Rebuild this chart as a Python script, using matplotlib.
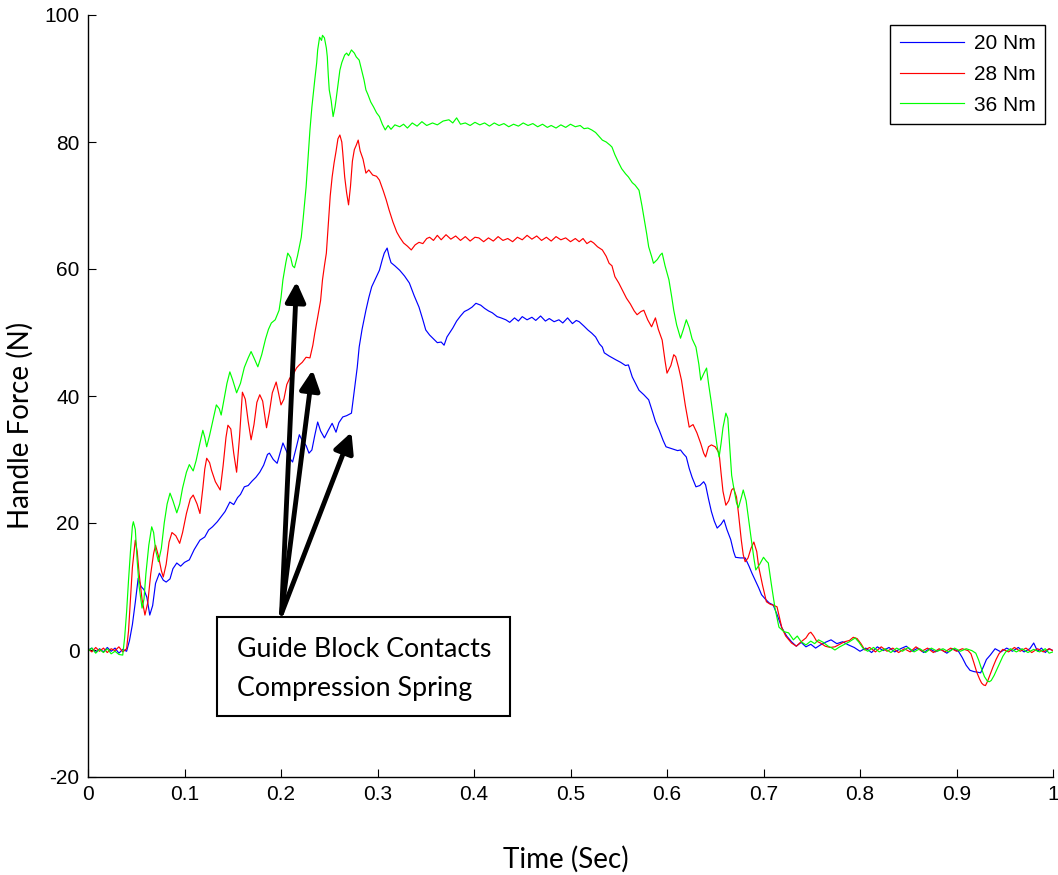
import matplotlib.pyplot as plt
import numpy as np

# handle force vs time for three motor torques
t_20 = [0.000, 0.004, 0.008, 0.012, 0.016, 0.020, 0.024, 0.028, 0.032, 0.036, 0.040,
        0.043, 0.046, 0.049, 0.052, 0.055, 0.058, 0.061, 0.064, 0.067, 0.070, 0.074, 0.078,
        0.081, 0.085, 0.088, 0.092, 0.096, 0.100, 0.105, 0.110, 0.116, 0.121, 0.125, 0.129,
        0.134, 0.138, 0.142, 0.147, 0.151, 0.155, 0.158, 0.162, 0.166, 0.170, 0.174, 0.178,
        0.182, 0.186, 0.188, 0.192, 0.196, 0.199, 0.202, 0.206, 0.209, 0.212, 0.216, 0.219,
        0.222, 0.226, 0.229, 0.232, 0.235, 0.238, 0.241, 0.245, 0.249, 0.253, 0.257, 0.260,
        0.264, 0.268, 0.273, 0.276, 0.279, 0.281, 0.284, 0.288, 0.291, 0.294, 0.298, 0.302,
        0.305, 0.307, 0.310, 0.312, 0.314, 0.318, 0.323, 0.328, 0.333, 0.338, 0.343, 0.347,
        0.350, 0.354, 0.358, 0.362, 0.366, 0.369, 0.372, 0.375, 0.378, 0.382, 0.386, 0.390,
        0.394, 0.398, 0.402, 0.407, 0.411, 0.415, 0.419, 0.424, 0.428, 0.433, 0.437, 0.442,
        0.446, 0.450, 0.455, 0.460, 0.464, 0.469, 0.474, 0.478, 0.483, 0.488, 0.492, 0.497,
        0.502, 0.506, 0.509, 0.514, 0.518, 0.522, 0.526, 0.530, 0.533, 0.535, 0.540, 0.547,
        0.552, 0.557, 0.560, 0.564, 0.568, 0.571, 0.576, 0.581, 0.585, 0.588, 0.592, 0.596,
        0.599, 0.603, 0.607, 0.611, 0.614, 0.617, 0.620, 0.623, 0.626, 0.630, 0.634, 0.638,
        0.640, 0.643, 0.646, 0.649, 0.652, 0.656, 0.659, 0.662, 0.666, 0.669, 0.671, 0.676,
        0.681, 0.685, 0.688, 0.692, 0.695, 0.698, 0.702, 0.706, 0.710, 0.714, 0.719, 0.724,
        0.729, 0.734, 0.739, 0.744, 0.749, 0.754, 0.759, 0.764, 0.770, 0.776, 0.782, 0.788,
        0.794, 0.800, 0.806, 0.812, 0.818, 0.824, 0.830, 0.836, 0.842, 0.848, 0.854, 0.860,
        0.866, 0.872, 0.878, 0.884, 0.890, 0.896, 0.902, 0.906, 0.910, 0.914, 0.918, 0.922,
        0.925, 0.928, 0.931, 0.935, 0.940, 0.946, 0.952, 0.958, 0.964, 0.970, 0.976, 0.980,
        0.984, 0.988, 0.992, 0.996, 1.000]
f_20 = [0.0, 0.3, -0.4, 0.2, -0.3, 0.4, -0.2, 0.3, -0.5, 0.1, -0.2,
        1.5, 4.0, 7.5, 11.3, 10.0, 9.5, 8.3, 5.5, 7.0, 10.5, 12.1, 11.0,
        10.7, 11.2, 12.8, 13.7, 13.2, 13.8, 14.2, 15.8, 17.3, 17.8, 18.9, 19.4,
        20.2, 21.0, 21.8, 23.3, 22.9, 24.0, 24.5, 25.7, 25.9, 26.6, 27.2, 28.0,
        29.1, 30.8, 31.0, 30.0, 29.4, 31.0, 32.6, 31.2, 30.2, 29.6, 32.0, 33.9,
        33.0, 32.2, 31.0, 31.5, 33.8, 35.9, 34.5, 33.4, 34.6, 35.7, 34.3, 35.8,
        36.7, 36.9, 37.3, 40.9, 44.5, 47.7, 50.5, 53.5, 55.5, 57.2, 58.5, 59.8,
        61.5, 62.5, 63.3, 62.0, 61.0, 60.5, 59.8, 58.9, 57.8, 55.8, 54.0, 52.0,
        50.4, 49.6, 49.0, 48.4, 48.5, 48.0, 49.3, 50.0, 50.7, 51.8, 52.6, 53.3,
        53.6, 54.0, 54.6, 54.3, 53.8, 53.4, 53.1, 52.5, 52.3, 52.0, 51.6, 52.3,
        51.8, 52.5, 52.0, 52.4, 51.9, 52.6, 51.8, 52.2, 51.7, 52.0, 51.5, 52.3,
        51.4, 51.9, 51.7, 51.0, 50.4, 49.9, 49.3, 48.2, 47.7, 46.8, 46.3, 45.7,
        45.3, 44.8, 44.9, 43.0, 41.8, 40.9, 40.2, 39.4, 37.5, 36.0, 34.6, 33.0,
        32.0, 31.8, 31.6, 31.4, 31.5, 30.9, 30.4, 28.6, 27.2, 25.7, 25.9, 26.5,
        26.0, 23.8, 21.8, 20.3, 19.2, 19.8, 20.5, 19.0, 17.4, 15.5, 14.6, 14.5,
        14.5, 13.2, 12.1, 10.8, 9.8, 8.7, 8.0, 7.4, 7.1, 5.6, 3.5, 2.2,
        1.3, 0.6, 1.2, 0.5, 0.9, 0.3, 0.8, 1.2, 1.6, 1.0, 1.3, 0.8,
        0.4, -0.2, 0.3, -0.4, 0.5, -0.1, 0.4, -0.3, 0.2, 0.6, -0.2, 0.3,
        -0.4, 0.2, -0.3, 0.1, -0.5, 0.2, -0.2, -1.2, -2.4, -3.2, -3.4, -3.5,
        -3.6, -2.6, -1.5, -0.8, 0.2, -0.3, 0.3, -0.2, 0.4, -0.3, 0.2, 1.1,
        -0.2, 0.3, -0.4, 0.2, -0.1]

t_28 = [0.000, 0.004, 0.008, 0.012, 0.016, 0.020, 0.024, 0.028, 0.032, 0.036, 0.040,
        0.042, 0.044, 0.046, 0.049, 0.051, 0.053, 0.056, 0.059, 0.062, 0.065, 0.068, 0.070,
        0.073, 0.076, 0.078, 0.081, 0.084, 0.087, 0.091, 0.095, 0.098, 0.102, 0.106, 0.109,
        0.113, 0.116, 0.119, 0.121, 0.123, 0.126, 0.128, 0.132, 0.137, 0.140, 0.143, 0.145,
        0.148, 0.151, 0.154, 0.157, 0.160, 0.163, 0.166, 0.169, 0.172, 0.175, 0.178, 0.181,
        0.185, 0.188, 0.191, 0.195, 0.197, 0.200, 0.203, 0.206, 0.209, 0.213, 0.216, 0.219,
        0.222, 0.226, 0.230, 0.233, 0.235, 0.238, 0.241, 0.243, 0.245, 0.247, 0.249, 0.251,
        0.253, 0.255, 0.257, 0.259, 0.261, 0.263, 0.264, 0.266, 0.268, 0.270, 0.272, 0.274,
        0.276, 0.278, 0.280, 0.282, 0.285, 0.288, 0.291, 0.295, 0.299, 0.302, 0.306, 0.309,
        0.312, 0.316, 0.320, 0.323, 0.327, 0.331, 0.335, 0.339, 0.343, 0.347, 0.351, 0.354,
        0.358, 0.362, 0.366, 0.371, 0.376, 0.381, 0.386, 0.391, 0.396, 0.401, 0.405, 0.410,
        0.415, 0.420, 0.425, 0.430, 0.435, 0.440, 0.445, 0.450, 0.455, 0.460, 0.465, 0.470,
        0.475, 0.480, 0.485, 0.490, 0.495, 0.500, 0.505, 0.509, 0.513, 0.517, 0.521, 0.524,
        0.528, 0.533, 0.537, 0.540, 0.543, 0.546, 0.550, 0.555, 0.558, 0.562, 0.566, 0.569,
        0.573, 0.576, 0.580, 0.584, 0.588, 0.591, 0.595, 0.598, 0.600, 0.604, 0.607, 0.609,
        0.612, 0.615, 0.619, 0.623, 0.627, 0.631, 0.635, 0.638, 0.640, 0.643, 0.646, 0.650,
        0.654, 0.656, 0.658, 0.661, 0.664, 0.667, 0.669, 0.672, 0.674, 0.677, 0.679, 0.681,
        0.684, 0.687, 0.690, 0.693, 0.695, 0.699, 0.703, 0.707, 0.711, 0.714, 0.717, 0.719,
        0.723, 0.729, 0.734, 0.739, 0.744, 0.747, 0.749, 0.752, 0.755, 0.759, 0.764, 0.769,
        0.774, 0.779, 0.784, 0.789, 0.793, 0.797, 0.801, 0.805, 0.810, 0.816, 0.822, 0.828,
        0.834, 0.840, 0.846, 0.852, 0.858, 0.864, 0.870, 0.876, 0.882, 0.888, 0.894, 0.900,
        0.906, 0.912, 0.915, 0.918, 0.921, 0.924, 0.926, 0.928, 0.930, 0.932, 0.935, 0.938,
        0.941, 0.944, 0.948, 0.954, 0.960, 0.966, 0.972, 0.978, 0.984, 0.990, 0.996, 1.000]
f_28 = [0.2, -0.3, 0.4, -0.2, 0.3, -0.4, 0.2, -0.1, 0.5, -0.3, 0.2,
        3.0, 8.0, 13.0, 17.3, 15.5, 12.0, 8.0, 5.5, 7.5, 12.0, 15.2, 16.5,
        14.8, 12.5, 11.5, 13.5, 17.0, 18.5, 18.0, 16.8, 18.5, 21.5, 23.8, 24.4,
        23.0, 21.5, 25.5, 28.5, 30.2, 29.5, 28.3, 26.5, 25.2, 29.0, 33.5, 35.4,
        34.8, 31.0, 28.0, 33.5, 40.6, 39.5, 36.0, 33.1, 35.5, 39.0, 40.2, 39.2,
        35.0, 37.5, 40.5, 42.2, 40.8, 38.6, 39.5, 41.8, 42.8, 43.5, 44.4, 44.9,
        45.3, 46.1, 46.0, 48.0, 49.9, 52.4, 55.0, 58.3, 60.5, 62.5, 67.0, 71.5,
        74.5, 76.7, 78.5, 80.5, 81.1, 80.0, 78.3, 74.5, 72.0, 70.1, 73.0, 77.0,
        78.8, 79.5, 80.3, 78.6, 77.3, 75.1, 75.6, 74.8, 74.6, 74.0, 72.3, 70.9,
        69.3, 67.4, 65.8, 65.0, 64.1, 63.6, 63.0, 63.8, 64.2, 64.0, 64.8, 65.0,
        64.5, 65.3, 64.6, 65.4, 64.7, 65.2, 64.5, 65.1, 64.4, 65.0, 64.9, 64.3,
        64.9, 64.4, 65.1, 64.5, 64.8, 64.3, 65.0, 64.6, 65.3, 64.7, 65.2, 64.5,
        65.0, 64.4, 65.1, 64.6, 64.9, 64.3, 64.8, 64.3, 64.8, 64.0, 64.4, 64.1,
        63.5, 63.0, 62.0, 60.9, 60.5, 58.8, 57.8, 56.3, 55.4, 54.5, 53.4, 52.8,
        53.3, 53.5, 52.0, 50.9, 52.3, 50.5, 48.8, 45.5, 43.6, 44.8, 46.5, 46.2,
        44.5, 42.5, 38.5, 35.1, 35.5, 34.2, 32.5, 31.0, 30.4, 32.0, 32.3, 32.0,
        31.0, 27.9, 25.0, 22.8, 23.5, 25.2, 25.5, 24.1, 21.6, 17.3, 15.0, 13.9,
        14.5, 16.0, 17.0, 15.5, 13.1, 10.2, 7.6, 7.2, 7.0, 6.8, 4.8, 3.5,
        2.2, 1.1, 0.6, 1.3, 1.9, 2.6, 2.8, 2.2, 1.4, 1.1, 0.6, 0.4,
        0.5, 0.9, 1.3, 1.5, 2.0, 1.8, 1.0, 0.0, 0.4, -0.3, 0.5, -0.2,
        0.3, -0.4, 0.2, -0.3, 0.5, -0.2, 0.3, -0.4, 0.2, -0.3, 0.3, -0.2,
        0.2, -0.1, -0.6, -2.0, -3.5, -4.6, -5.2, -5.5, -5.6, -5.0, -3.8, -2.6,
        -1.5, -0.6, 0.1, -0.3, 0.4, -0.2, 0.3, -0.4, 0.2, -0.3, 0.2, -0.1]

t_36 = [0.000, 0.004, 0.008, 0.012, 0.016, 0.020, 0.024, 0.028, 0.032, 0.036, 0.038,
        0.040, 0.042, 0.044, 0.046, 0.047, 0.049, 0.051, 0.053, 0.056, 0.058, 0.060, 0.063,
        0.066, 0.068, 0.070, 0.073, 0.076, 0.079, 0.082, 0.085, 0.088, 0.092, 0.095, 0.098,
        0.102, 0.105, 0.109, 0.112, 0.116, 0.119, 0.121, 0.123, 0.126, 0.130, 0.133, 0.136,
        0.138, 0.141, 0.144, 0.147, 0.150, 0.154, 0.158, 0.162, 0.166, 0.169, 0.172, 0.176,
        0.180, 0.184, 0.187, 0.190, 0.194, 0.198, 0.200, 0.202, 0.205, 0.207, 0.210, 0.212,
        0.214, 0.217, 0.219, 0.221, 0.223, 0.226, 0.228, 0.230, 0.232, 0.235, 0.237, 0.238,
        0.240, 0.242, 0.243, 0.245, 0.247, 0.248, 0.249, 0.250, 0.252, 0.254, 0.256, 0.257,
        0.259, 0.261, 0.263, 0.266, 0.268, 0.270, 0.273, 0.276, 0.278, 0.281, 0.284, 0.286,
        0.288, 0.290, 0.293, 0.296, 0.299, 0.302, 0.305, 0.308, 0.311, 0.314, 0.318, 0.323,
        0.327, 0.331, 0.336, 0.341, 0.346, 0.351, 0.357, 0.362, 0.368, 0.374, 0.378, 0.382,
        0.386, 0.391, 0.396, 0.401, 0.406, 0.411, 0.416, 0.421, 0.426, 0.431, 0.436, 0.441,
        0.446, 0.451, 0.456, 0.461, 0.466, 0.471, 0.476, 0.480, 0.485, 0.490, 0.495, 0.500,
        0.505, 0.510, 0.514, 0.518, 0.522, 0.526, 0.530, 0.533, 0.537, 0.541, 0.543, 0.546,
        0.550, 0.553, 0.557, 0.560, 0.564, 0.567, 0.571, 0.574, 0.576, 0.579, 0.581, 0.584,
        0.586, 0.590, 0.593, 0.595, 0.598, 0.602, 0.605, 0.607, 0.610, 0.614, 0.617, 0.620,
        0.623, 0.626, 0.630, 0.633, 0.635, 0.638, 0.641, 0.643, 0.646, 0.649, 0.652, 0.654,
        0.656, 0.658, 0.661, 0.663, 0.665, 0.667, 0.669, 0.672, 0.674, 0.677, 0.679, 0.682,
        0.685, 0.687, 0.690, 0.692, 0.696, 0.700, 0.703, 0.705, 0.708, 0.712, 0.716, 0.721,
        0.726, 0.731, 0.735, 0.739, 0.744, 0.749, 0.753, 0.757, 0.762, 0.767, 0.771, 0.774,
        0.779, 0.784, 0.789, 0.795, 0.799, 0.803, 0.808, 0.814, 0.820, 0.826, 0.832, 0.838,
        0.844, 0.850, 0.856, 0.862, 0.868, 0.874, 0.880, 0.886, 0.892, 0.898, 0.904, 0.910,
        0.916, 0.920, 0.923, 0.926, 0.929, 0.932, 0.934, 0.936, 0.939, 0.942, 0.945, 0.948,
        0.951, 0.956, 0.962, 0.968, 0.974, 0.980, 0.986, 0.992, 0.996, 1.000]
f_36 = [-0.2, 0.3, -0.5, 0.1, -0.4, 0.2, -0.6, -0.2, -0.7, -0.8, 2.0,
        6.0, 11.0, 15.5, 19.5, 20.2, 19.0, 14.0, 10.0, 6.6, 8.0, 12.0, 16.5,
        19.4, 18.5, 15.8, 13.9, 16.0, 20.0, 23.0, 24.7, 23.5, 21.6, 23.0, 25.5,
        28.0, 29.2, 28.2, 29.8, 32.6, 34.6, 33.5, 32.0, 33.8, 36.5, 38.6, 38.0,
        37.0, 39.5, 42.0, 43.8, 42.5, 40.5, 42.0, 44.5, 46.0, 47.0, 46.0, 44.6,
        46.5, 49.0, 50.5, 51.5, 52.0, 53.5, 55.5, 58.3, 61.0, 62.5, 61.8, 60.5,
        60.2, 62.0, 63.5, 65.0, 68.0, 72.9, 77.5, 81.9, 85.5, 89.8, 92.5, 94.5,
        96.5, 96.0, 96.8, 96.4, 94.8, 93.4, 90.5, 88.2, 86.5, 84.0, 85.5, 86.6,
        89.0, 91.3, 92.5, 93.7, 94.0, 93.6, 94.5, 94.0, 93.4, 92.9, 91.0, 89.8,
        88.2, 87.5, 86.3, 85.5, 84.6, 84.0, 82.8, 81.9, 82.6, 82.0, 82.7, 82.4,
        82.8, 82.2, 83.0, 82.5, 83.2, 82.6, 83.0, 82.7, 83.3, 83.5, 83.0, 83.8,
        82.8, 83.0, 82.6, 83.1, 82.7, 83.0, 82.5, 83.0, 82.6, 82.9, 82.4, 82.8,
        82.5, 83.0, 82.6, 82.9, 82.4, 82.8, 82.3, 82.6, 82.2, 82.7, 82.3, 82.8,
        82.4, 82.6, 82.1, 82.2, 81.9, 81.5, 80.8, 80.3, 80.0, 79.5, 79.2, 78.0,
        76.7, 75.8, 75.0, 74.5, 73.6, 73.2, 72.4, 70.0, 68.2, 65.5, 63.5, 62.0,
        60.9, 61.5, 62.2, 62.5, 60.5, 58.3, 55.5, 53.5, 51.2, 49.1, 50.5, 52.0,
        50.8, 49.0, 47.7, 45.0, 42.5, 43.5, 44.4, 42.0, 38.9, 35.5, 32.0, 30.4,
        32.5, 35.0, 37.3, 36.5, 32.0, 27.5, 25.7, 23.2, 22.4, 24.0, 25.2, 23.5,
        20.0, 17.8, 14.5, 12.6, 13.5, 14.6, 14.0, 13.7, 10.5, 6.5, 3.6, 2.9,
        2.7, 1.6, 2.2, 1.3, 0.8, 1.4, 1.0, 1.6, 1.2, 0.6, 0.3, 0.0,
        0.5, 0.9, 1.3, 1.9, 1.2, 0.3, -0.2, 0.4, -0.3, 0.2, -0.4, 0.3,
        -0.2, 0.4, -0.3, 0.2, -0.4, 0.3, -0.2, 0.2, -0.3, 0.3, -0.2, 0.2,
        -0.1, -0.5, -1.6, -3.0, -4.2, -4.9, -5.0, -4.8, -4.0, -3.0, -2.0, -1.0,
        -0.3, 0.2, -0.3, 0.2, -0.4, 0.1, -0.3, 0.2, -0.5, -0.3]

labels = ['20 Nm', '28 Nm', '36 Nm']
colors = ['#0000ff', '#ff0000', '#00ff00']

# arrow tail and the three spring-contact points it points at
arrow_tail = (0.2006, 5.8)
arrow_tips = [(0.2161, 58.0), (0.2327, 44.1), (0.273, 34.3)]
note = 'Guide Block Contacts\nCompression Spring'

plt.rcParams['font.family'] = ['Liberation Sans', 'DejaVu Sans']
plt.rcParams['axes.unicode_minus'] = False

fig = plt.figure(figsize=(10.58, 8.75), dpi=100)
ax = fig.add_axes([88 / 1058, 98 / 875, 965 / 1058, 762 / 875])

for t, f, lab, c in zip([t_20, t_28, t_36], [f_20, f_28, f_36], labels, colors):
    ax.plot(t, f, color=c, lw=0.85, label=lab)

ax.set_xlim(0, 1)
ax.set_ylim(-20, 100)
ax.set_xticks(np.arange(0, 1.01, 0.1))
ax.set_xticklabels(['0'] + ['%.1f' % v for v in np.arange(0.1, 0.95, 0.1)] + ['1'])
ax.set_yticks(np.arange(-20, 101, 20))
ax.tick_params(direction='in', length=6, width=0.8, labelsize=15, pad=6)
for side in ['top', 'right']:
    ax.spines[side].set_visible(False)
for side in ['left', 'bottom']:
    ax.spines[side].set_linewidth(1.0)

ax.set_xlabel('Time (Sec)', family='Lato', fontsize=20)
ax.set_ylabel('Handle Force (N)', family='Lato', fontsize=20)
ax.xaxis.set_label_coords(0.495, -0.091)
ax.yaxis.set_label_coords(-0.056, 0.462)

leg = ax.legend(loc='upper right', bbox_to_anchor=(0.992, 0.9869), fontsize=15,
                frameon=True, fancybox=False, edgecolor='black', framealpha=1,
                handlelength=3.07, handletextpad=0.5, labelspacing=0.56,
                borderpad=0.45, borderaxespad=0)
leg.get_frame().set_linewidth(1.0)

# text box for the annotation
ax.add_patch(plt.Rectangle((0.1334, -10.4), 0.304, 15.6, fill=False,
                           edgecolor='black', lw=1.5, zorder=5))
ax.text(0.154, -3.0, note, family='Lato', fontsize=19.3, ha='left', va='center',
        linespacing=1.72, zorder=6)

for tip in arrow_tips:
    ax.annotate('', xy=tip, xytext=arrow_tail,
                arrowprops=dict(arrowstyle='-|>,head_length=0.6,head_width=0.3',
                                mutation_scale=20, lw=3.5, color='black',
                                shrinkA=0, shrinkB=0))

fig.savefig('out.png', dpi=100)
